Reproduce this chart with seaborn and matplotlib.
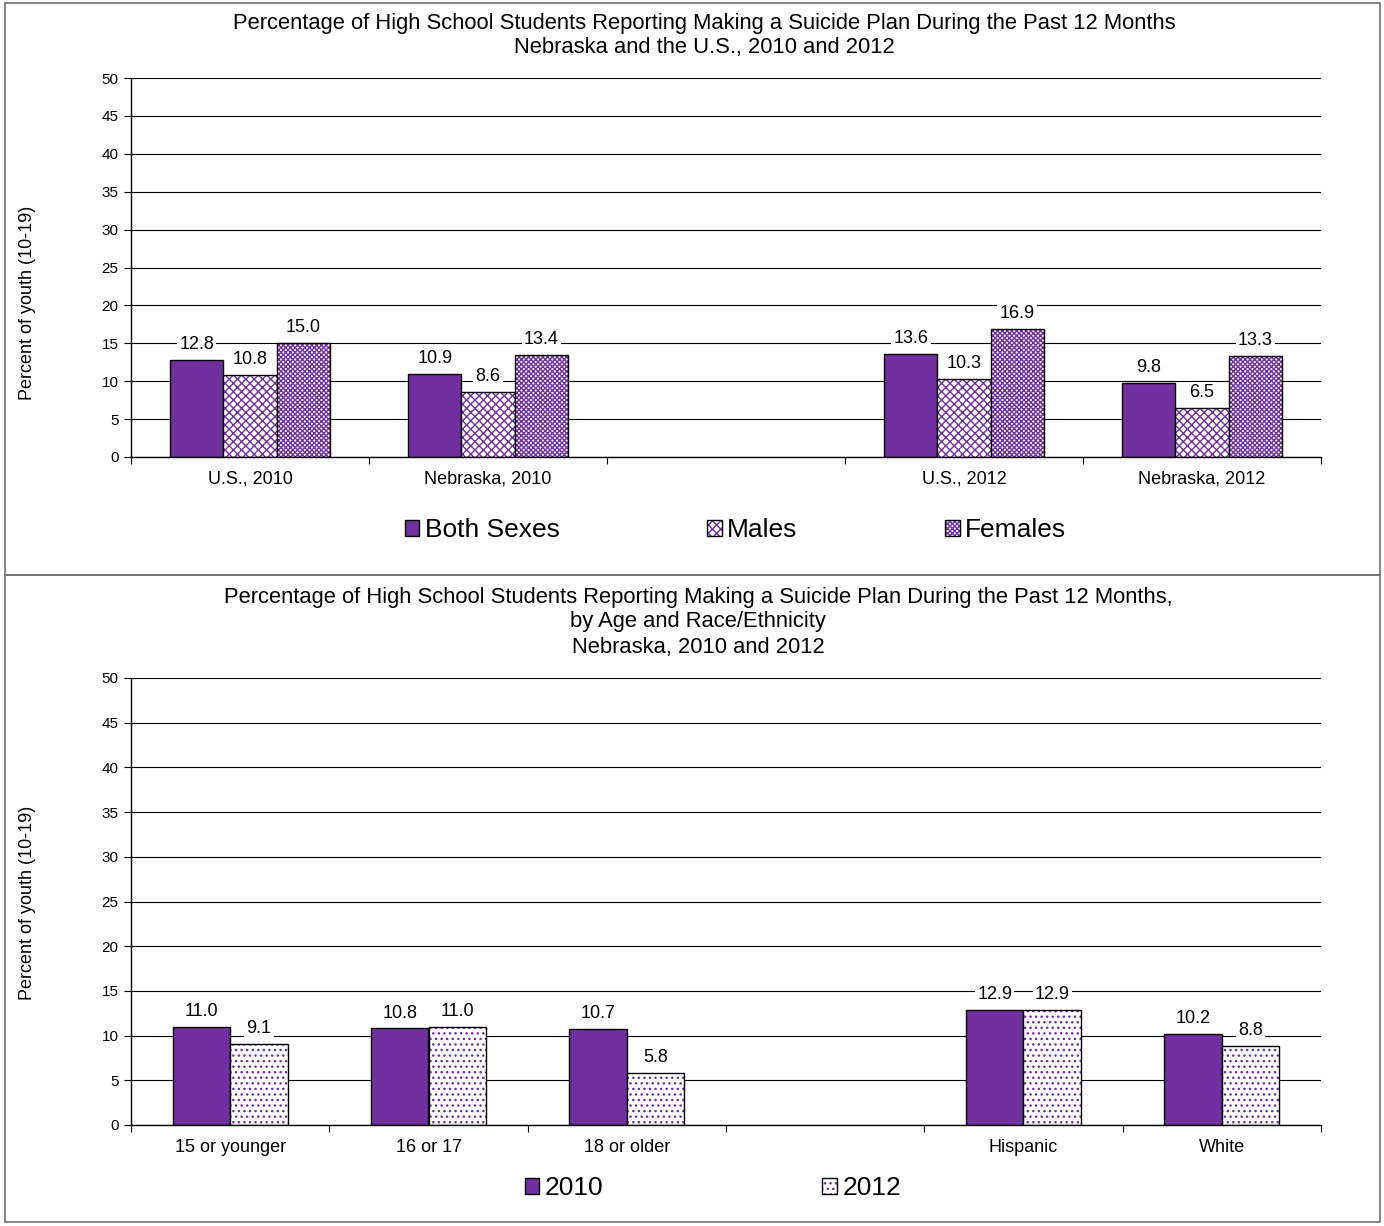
import numpy as np
import pandas as pd
import matplotlib.pyplot as plt
import seaborn as sns
from matplotlib.patches import Patch, Rectangle
from matplotlib.colors import to_rgba

sns.set_theme(style="white")
plt.rcParams['font.family'] = ['Liberation Sans', 'DejaVu Sans']
plt.rcParams['hatch.linewidth'] = 1.0
plt.rcParams['text.color'] = 'black'
plt.rcParams['xtick.color'] = 'black'
plt.rcParams['ytick.color'] = 'black'
plt.rcParams['axes.labelcolor'] = 'black'

purple = "#7030A0"

# top chart data
places = ["U.S., 2010", "Nebraska, 2010", "U.S., 2012", "Nebraska, 2012"]
top_order = ["U.S., 2010", "Nebraska, 2010", " ", "U.S., 2012", "Nebraska, 2012"]
sex_labels = ["Both Sexes", "Males", "Females"]
both_sexes = [12.8, 10.9, 13.6, 9.8]
males = [10.8, 8.6, 10.3, 6.5]
females = [15.0, 13.4, 16.9, 13.3]

# bottom chart data
groups = ["15 or younger", "16 or 17", "18 or older", "Hispanic", "White"]
bottom_order = ["15 or younger", "16 or 17", "18 or older", " ", "Hispanic", "White"]
year_labels = ["2010", "2012"]
pct_2010 = [11.0, 10.8, 10.7, 12.9, 10.2]
pct_2012 = [9.1, 11.0, 5.8, 12.9, 8.8]

top_df = pd.DataFrame({
    "place": places * 3,
    "sex": np.repeat(sex_labels, len(places)),
    "pct": both_sexes + males + females,
})
bottom_df = pd.DataFrame({
    "group": groups * 2,
    "year": np.repeat(year_labels, len(groups)),
    "pct": pct_2010 + pct_2012,
})

W, H = 1384, 1226
fig = plt.figure(figsize=(W / 100, H / 100), dpi=100)


def px_axes(left, top, right, bottom):
    return fig.add_axes([left / W, 1 - bottom / H, (right - left) / W, (bottom - top) / H])


def style_axes(ax, n):
    ax.set_ylim(0, 50)
    ax.set_yticks(np.arange(0, 51, 5))
    ax.yaxis.grid(True, color="black", linewidth=0.8)
    ax.set_axisbelow(True)
    for s in ["top", "right"]:
        ax.spines[s].set_visible(False)
    for s in ["left", "bottom"]:
        ax.spines[s].set_color("black")
        ax.spines[s].set_linewidth(1.0)
    ax.tick_params(axis="y", which="major", direction="out", length=5, width=0.8,
                   color="black", labelsize=11, pad=4, left=True)
    ax.set_xticks(np.arange(-0.5, n, 1.0), minor=True)
    ax.tick_params(axis="x", which="minor", direction="out", length=5, width=0.8,
                   color="black", bottom=True)
    ax.tick_params(axis="x", which="major", length=0, labelsize=13, pad=10)
    ax.set_xlim(-0.5, n - 0.5)
    ax.set_xlabel("")
    ax.set_ylabel("")


def add_labels(ax):
    for c in ax.containers:
        ax.bar_label(c, fmt="%.1f", padding=5, fontsize=13,
                     bbox=dict(facecolor="white", edgecolor="none", pad=1.5))


# ---------------- top panel ----------------
ax1 = px_axes(131, 78, 1321, 457)
sns.barplot(data=top_df, x="place", y="pct", hue="sex", order=top_order,
            hue_order=sex_labels, palette=[purple, "white", "white"],
            saturation=1, width=0.67, edgecolor="black", linewidth=1.0,
            legend=False, ax=ax1)
top_hatches = [None, "xxxx", "xxxxxxx"]
for c, h in zip(ax1.containers, top_hatches):
    if h:
        for p in c:
            p.set_hatch(h)
            p._hatch_color = to_rgba(purple)
style_axes(ax1, len(top_order))
add_labels(ax1)

h1 = []
for lab, h in zip(sex_labels, top_hatches):
    fc = purple if h is None else "white"
    p = Patch(facecolor=fc, edgecolor="black", hatch=h, label=lab, linewidth=1.0)
    p._hatch_color = to_rgba(purple)
    h1.append(p)
ax1.legend(handles=h1, loc="center", bbox_to_anchor=(0.508, -0.193), ncol=3,
           frameon=False, fontsize=19, handlelength=0.55, handleheight=0.55,
           handletextpad=0.2, columnspacing=5.6)

fig.text(704 / W, 1 - 23 / H,
         "Percentage of High School Students Reporting Making a Suicide Plan During the Past 12 Months",
         ha="center", va="center", fontsize=15.8)
fig.text(704 / W, 1 - 48 / H, "Nebraska and the U.S., 2010 and 2012",
         ha="center", va="center", fontsize=15.8)
fig.text(28 / W, 1 - 303 / H, "Percent of youth (10-19)", rotation=90,
         ha="center", va="center", fontsize=13)

# ---------------- bottom panel ----------------
ax2 = px_axes(131, 678, 1321, 1125)
sns.barplot(data=bottom_df, x="group", y="pct", hue="year", order=bottom_order,
            hue_order=year_labels, palette=[purple, "white"],
            saturation=1, width=0.58, edgecolor="black", linewidth=1.0,
            legend=False, ax=ax2)
bottom_hatches = [None, "..."]
for c, h in zip(ax2.containers, bottom_hatches):
    if h:
        for p in c:
            p.set_hatch(h)
            p._hatch_color = to_rgba(purple)
style_axes(ax2, len(bottom_order))
add_labels(ax2)

h2 = []
for lab, h in zip(year_labels, bottom_hatches):
    fc = purple if h is None else "white"
    p = Patch(facecolor=fc, edgecolor="black", hatch=h, label=lab, linewidth=1.0)
    p._hatch_color = to_rgba(purple)
    h2.append(p)
ax2.legend(handles=h2, loc="center", bbox_to_anchor=(0.489, -0.141), ncol=2,
           frameon=False, fontsize=19, handlelength=0.55, handleheight=0.55,
           handletextpad=0.2, columnspacing=8.3)

fig.text(698 / W, 1 - 597 / H,
         "Percentage of High School Students Reporting Making a Suicide Plan During the Past 12 Months,",
         ha="center", va="center", fontsize=15.8)
fig.text(698 / W, 1 - 622 / H, "by Age and Race/Ethnicity",
         ha="center", va="center", fontsize=15.8)
fig.text(698 / W, 1 - 647 / H, "Nebraska, 2010 and 2012",
         ha="center", va="center", fontsize=15.8)
fig.text(28 / W, 1 - 903 / H, "Percent of youth (10-19)", rotation=90,
         ha="center", va="center", fontsize=13)

# panel frames
fig.add_artist(Rectangle((5 / W, 1 - 575 / H), 1375 / W, 572 / H, transform=fig.transFigure,
                         fill=False, edgecolor="#707070", linewidth=1.2))
fig.add_artist(Rectangle((5 / W, 1 - 1222 / H), 1375 / W, 647 / H, transform=fig.transFigure,
                         fill=False, edgecolor="#707070", linewidth=1.2))

fig.savefig("out.png", dpi=100)
